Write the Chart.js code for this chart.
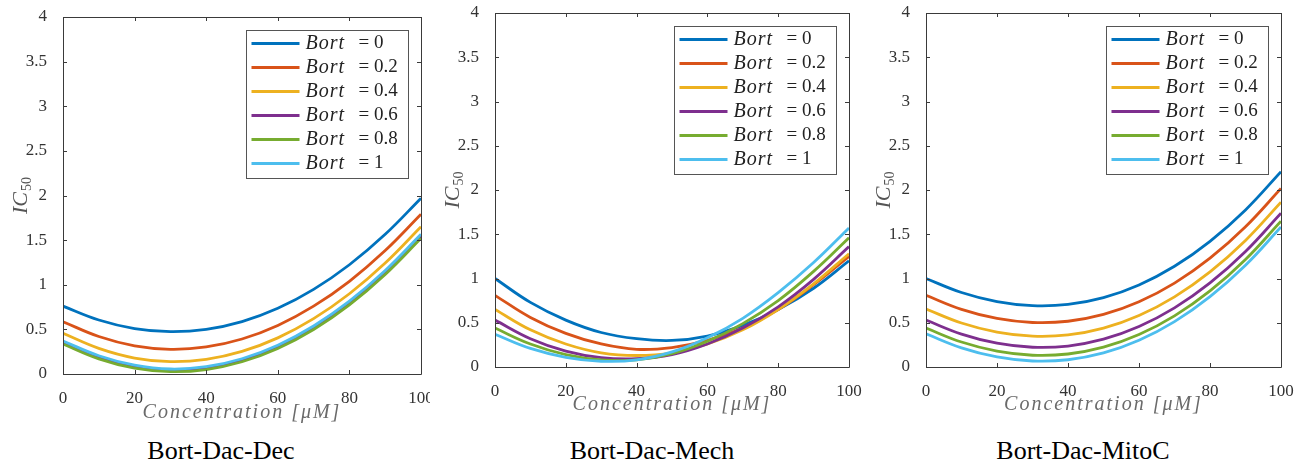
<!DOCTYPE html>
<html>
<head>
<meta charset="utf-8">
<script src="https://cdn.jsdelivr.net/npm/chart.js@4.4.0/dist/chart.umd.min.js"></script>
<style>
    body { margin: 0; background: #fff; width: 1308px; height: 466px; position: relative; overflow: hidden; }
    .panel { position: absolute; top: 0; }
    .caption {
        position: absolute; top: 436px;
        font-family: 'Liberation Serif', 'Times New Roman', 'DejaVu Serif', serif;
        font-size: 26px; color: #000;
        transform: translateX(-50%); white-space: nowrap;
    }
</style>
</head>
<body>
<div class="panel" style="left:0px;width:430px;height:430px"><canvas id="decChart"></canvas></div>
<div class="panel" style="left:430px;width:440px;height:423px"><canvas id="mechChart"></canvas></div>
<div class="panel" style="left:870px;width:438px;height:423px"><canvas id="mitoChart"></canvas></div>
<div class="caption" style="left:221px">Bort-Dac-Dec</div>
<div class="caption" style="left:652px">Bort-Dac-Mech</div>
<div class="caption" style="left:1083px">Bort-Dac-MitoC</div>

<script>
// x values (concentration in uM) and tick labels
const concentration = [0, 10, 20, 30, 40, 50, 60, 70, 80, 90, 100];
const xTicks = [0, 20, 40, 60, 80, 100];
const yTicks = [0, 0.5, 1, 1.5, 2, 2.5, 3, 3.5, 4];
const bortLevels = ['0', '0.2', '0.4', '0.6', '0.8', '1'];

// Bort-Dac-Dec
const decBort0  = [0.76, 0.605, 0.509, 0.474, 0.50, 0.587, 0.736, 0.948, 1.224, 1.565, 1.97];
const decBort02 = [0.586, 0.42, 0.316, 0.277, 0.303, 0.392, 0.544, 0.76, 1.039, 1.383, 1.79];
const decBort04 = [0.456, 0.287, 0.179, 0.138, 0.164, 0.253, 0.405, 0.62, 0.899, 1.243, 1.65];
const decBort06 = [0.36, 0.195, 0.084, 0.045, 0.07, 0.157, 0.308, 0.523, 0.802, 1.145, 1.55];
const decBort08 = [0.336, 0.17, 0.066, 0.026, 0.05, 0.137, 0.286, 0.498, 0.774, 1.115, 1.52];
const decBort1  = [0.37, 0.205, 0.099, 0.056, 0.082, 0.171, 0.323, 0.538, 0.816, 1.159, 1.565];

// Bort-Dac-Mech
const mechBort0  = [1.00, 0.73, 0.53, 0.39, 0.32, 0.30, 0.35, 0.47, 0.65, 0.89, 1.20];
const mechBort02 = [0.81, 0.56, 0.38, 0.26, 0.20, 0.22, 0.30, 0.44, 0.65, 0.93, 1.25];
const mechBort04 = [0.65, 0.42, 0.26, 0.16, 0.13, 0.16, 0.26, 0.42, 0.65, 0.94, 1.28];
const mechBort06 = [0.53, 0.32, 0.18, 0.105, 0.093, 0.14, 0.26, 0.44, 0.68, 0.99, 1.36];
const mechBort08 = [0.44, 0.26, 0.14, 0.08, 0.08, 0.15, 0.29, 0.49, 0.75, 1.08, 1.46];
const mechBort1  = [0.37, 0.21, 0.11, 0.065, 0.08, 0.17, 0.33, 0.55, 0.84, 1.18, 1.57];

// Bort-Dac-MitoC
const mitoBort0  = [1.00, 0.842, 0.739, 0.693, 0.707, 0.784, 0.927, 1.138, 1.42, 1.775, 2.207];
const mitoBort02 = [0.81, 0.652, 0.549, 0.503, 0.517, 0.594, 0.737, 0.948, 1.23, 1.585, 2.017];
const mitoBort04 = [0.655, 0.497, 0.394, 0.348, 0.362, 0.439, 0.582, 0.793, 1.075, 1.43, 1.862];
const mitoBort06 = [0.53, 0.372, 0.269, 0.223, 0.237, 0.314, 0.457, 0.668, 0.95, 1.305, 1.737];
const mitoBort08 = [0.44, 0.282, 0.179, 0.133, 0.147, 0.224, 0.367, 0.578, 0.86, 1.215, 1.647];
const mitoBort1  = [0.375, 0.217, 0.114, 0.068, 0.082, 0.159, 0.302, 0.513, 0.795, 1.15, 1.582];

// MATLAB default line colours
const lineColors = ['#0072BD', '#D95319', '#EDB120', '#7E2F8E', '#77AC30', '#4DBEEE'];

const serif = "'Liberation Serif', 'Times New Roman', 'DejaVu Serif', serif";

// Draws the MATLAB style box with inward ticks on all four sides
const framePlugin = {
    id: 'matlabFrame',
    afterDatasetsDraw(chart) {
        const { ctx, chartArea: a, scales } = chart;
        ctx.save();
        ctx.strokeStyle = '#3a3a3a';
        ctx.lineWidth = 1;
        ctx.beginPath();
        ctx.rect(Math.round(a.left) + 0.5, Math.round(a.top) + 0.5,
                 Math.round(a.right - a.left), Math.round(a.bottom - a.top));
        const len = 4;
        scales.x.ticks.forEach(t => {
            const px = Math.round(scales.x.getPixelForValue(t.value)) + 0.5;
            ctx.moveTo(px, a.bottom); ctx.lineTo(px, a.bottom - len);
            ctx.moveTo(px, a.top); ctx.lineTo(px, a.top + len);
        });
        scales.y.ticks.forEach(t => {
            const py = Math.round(scales.y.getPixelForValue(t.value)) + 0.5;
            ctx.moveTo(a.left, py); ctx.lineTo(a.left + len, py);
            ctx.moveTo(a.right, py); ctx.lineTo(a.right - len, py);
        });
        ctx.stroke();
        ctx.restore();
    }
};

// Axis titles: spaced italic x label and IC with subscript 50 on y
const axisTitlePlugin = {
    id: 'axisTitles',
    afterDraw(chart, args, opts) {
        const { ctx, chartArea: a } = chart;
        ctx.save();
        ctx.fillStyle = '#6a6a6a';
        ctx.textAlign = 'center';
        ctx.textBaseline = 'middle';
        ctx.font = `italic 20px ${serif}`;
        ctx.letterSpacing = '2px';
        ctx.fillText('Concentration [μM]', (a.left + a.right) / 2, opts.xTitleY);
        ctx.letterSpacing = '0px';

        // rotated y title
        ctx.translate(opts.yTitleX, (a.top + a.bottom) / 2);
        ctx.rotate(-Math.PI / 2);
        ctx.fillStyle = '#555';
        ctx.textAlign = 'left';
        ctx.textBaseline = 'alphabetic';
        ctx.font = `italic 22px ${serif}`;
        const wMain = ctx.measureText('IC').width;
        ctx.font = `14px ${serif}`;
        const wSub = ctx.measureText('50').width;
        const x0 = -(wMain + wSub + 1) / 2;
        ctx.font = `italic 22px ${serif}`;
        ctx.fillText('IC', x0, 7);
        ctx.font = `14px ${serif}`;
        ctx.fillText('50', x0 + wMain + 1, 11);
        ctx.restore();
    }
};

// Legend box inside the top right corner of the plot
const legendPlugin = {
    id: 'insideLegend',
    afterDraw(chart) {
        const { ctx, chartArea: a } = chart;
        const w = 162, h = 148;
        const x = Math.round(a.right - 13 - w) + 0.5;
        const y = Math.round(a.top + 13) + 0.5;
        ctx.save();
        ctx.fillStyle = '#fff';
        ctx.fillRect(x, y, w, h);
        ctx.strokeStyle = '#555';
        ctx.lineWidth = 1;
        ctx.strokeRect(x, y, w, h);
        ctx.textBaseline = 'middle';
        chart.data.datasets.forEach((ds, i) => {
            const cy = y + 13 + i * 24;
            ctx.strokeStyle = ds.borderColor;
            ctx.lineWidth = 3;
            ctx.beginPath();
            ctx.moveTo(x + 5, cy);
            ctx.lineTo(x + 53, cy);
            ctx.stroke();
            ctx.fillStyle = '#222';
            ctx.font = `italic 20px ${serif}`;
            ctx.letterSpacing = '1px';
            ctx.fillText('Bort', x + 59, cy);
            ctx.letterSpacing = '0px';
            ctx.font = `19px ${serif}`;
            ctx.fillText('= ' + bortLevels[i], x + 112, cy);
        });
        ctx.restore();
    }
};

function makeChart(canvasId, series, layout) {
    const ctx = document.getElementById(canvasId).getContext('2d');
    return new Chart(ctx, {
        type: 'line',
        data: {
            datasets: series.map((values, i) => ({
                label: 'Bort = ' + bortLevels[i],
                data: values.map((v, j) => ({ x: concentration[j], y: v })),
                borderColor: lineColors[i],
                borderWidth: 2.8,
                pointRadius: 0,
                tension: 0.4,
                fill: false,
                order: series.length - i   // later series drawn on top, as in MATLAB
            }))
        },
        options: {
            responsive: true,
            maintainAspectRatio: false,
            animation: false,
            layout: { padding: { left: 0, right: layout.padRight, top: layout.padTop, bottom: 0 } },
            plugins: {
                legend: { display: false },
                tooltip: { enabled: false },
                axisTitles: { xTitleY: layout.xTitleY, yTitleX: layout.yTitleX }
            },
            scales: {
                x: {
                    type: 'linear',
                    min: 0,
                    max: 100,
                    afterBuildTicks: s => { s.ticks = xTicks.map(v => ({ value: v })); },
                    afterFit: s => { s.height = 56; s.paddingLeft = 0; s.paddingRight = 0; },
                    grid: { display: false },
                    border: { display: false },
                    ticks: { color: '#333', font: { family: serif, size: 17 }, padding: 6, maxRotation: 0,
                             callback: v => String(v) }
                },
                y: {
                    type: 'linear',
                    min: 0,
                    max: 4,
                    afterBuildTicks: s => { s.ticks = yTicks.map(v => ({ value: v })); },
                    afterFit: s => { s.width = layout.yWidth; s.paddingTop = 0; s.paddingBottom = 0; },
                    grid: { display: false },
                    border: { display: false },
                    ticks: { color: '#333', font: { family: serif, size: 17 }, padding: 8,
                             callback: v => String(v) }
                }
            }
        },
        plugins: [framePlugin, legendPlugin, axisTitlePlugin]
    });
}

makeChart('decChart',
    [decBort0, decBort02, decBort04, decBort06, decBort08, decBort1],
    { yWidth: 63, padRight: 9, padTop: 17, xTitleY: 413, yTitleX: 20 });
makeChart('mechChart',
    [mechBort0, mechBort02, mechBort04, mechBort06, mechBort08, mechBort1],
    { yWidth: 65, padRight: 21, padTop: 13, xTitleY: 405, yTitleX: 22 });
makeChart('mitoChart',
    [mitoBort0, mitoBort02, mitoBort04, mitoBort06, mitoBort08, mitoBort1],
    { yWidth: 56, padRight: 27, padTop: 13, xTitleY: 405, yTitleX: 13 });
</script>
</body>
</html>
